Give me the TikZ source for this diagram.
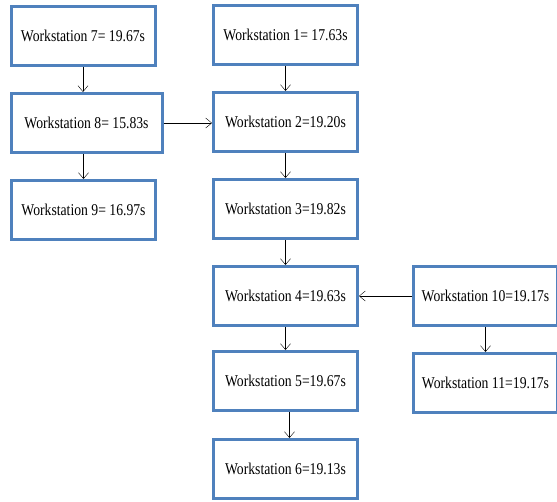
\documentclass[tikz,border=0pt]{standalone}
\usepackage{fontspec}
\setmainfont{Liberation Serif}[FakeStretch=0.83]
\usepackage{xcolor}
\usepackage{tikz}
\usetikzlibrary{arrows.meta,positioning,calc}

\definecolor{wsblue}{HTML}{4F81BD}

\begin{document}
\begin{tikzpicture}[->,>={Straight Barb[length=6pt,width=10pt]},thin,auto,node distance=87pt,
			x=1pt,y=1pt]
			\tikzstyle{every node}=[font=\fontsize{16.5}{18}\selectfont]
			\tikzstyle{ws}=[draw=wsblue,line width=3pt,fill=white,text=black,minimum width=144pt,minimum height=59pt,inner sep=0pt]
			
			\useasboundingbox (0,0) rectangle (557,-501);
			
			\node[ws]    (W7)  at (83,-36)                {Workstation 7= 19.67s};
			
			\node[ws, minimum width=151pt]    (W8)[below of = W7, xshift=3.5pt]		{Workstation 8= 15.83s};
			
			\node[ws]    (W9)[below of = W8, xshift=-3pt]		{Workstation 9= 16.97s};
			
			\node[ws]    (W1)  at (285.5,-35)             {Workstation 1= 17.63s};
			
			\node[ws]    (W2)[below of = W1]		{Workstation 2=19.20s};
			
			\node[ws]    (W3)[below of = W2]		{Workstation 3=19.82s};
			
			\node[ws]    (W4)[below of = W3]		{Workstation 4=19.63s};
			
			\node[ws]    (W5)[below of = W4, yshift=2pt]		{Workstation 5=19.67s};
			
			\node[ws]    (W6)[below of = W5, yshift=-1pt]		{Workstation 6=19.13s};
			
			\node[ws]    (W10)[right of = W4, xshift=113pt]		{Workstation 10=19.17s};
			
			\node[ws]    (W11)[below of = W10]		{Workstation 11=19.17s};
			
			\path
			
			(W7) edge (W7 |- W8.north)
			
			(W8.east) edge (W8.east -| W2.west)
			
			(W9 |- W8.south) edge (W9)
			
			(W1) edge (W2)
			
			(W2) edge (W3)
			
			(W3) edge (W4)
			
			(W10) edge (W4)
			
			(W10) edge (W11)
			
			(W4) edge (W5)
			
			([xshift=4pt]W5.south) edge ([xshift=4pt]W6.north);
			\end{tikzpicture}
\end{document}
